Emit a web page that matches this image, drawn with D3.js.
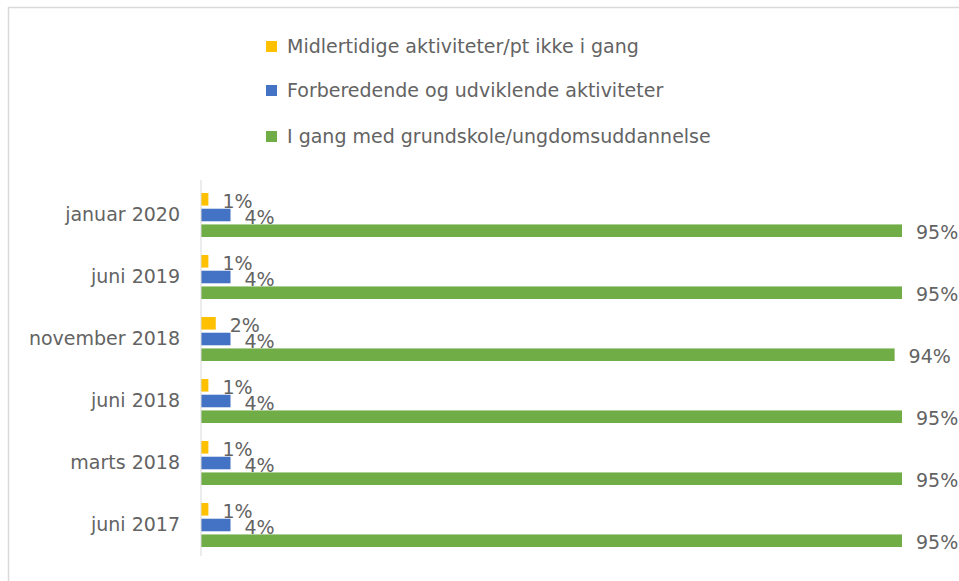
<!DOCTYPE html>
<html>
<head>
<meta charset="utf-8">
<script src="https://cdn.jsdelivr.net/npm/d3@7"></script>
<style>
  html, body { margin: 0; padding: 0; background: #fff; }
  text { font-family: "DejaVu Sans", sans-serif; }
</style>
</head>
<body>
<svg id="chart" width="959" height="581"></svg>
<script>
const categories = ["januar 2020", "juni 2019", "november 2018", "juni 2018", "marts 2018", "juni 2017"];
const seriesNames = [
  "Midlertidige aktiviteter/pt ikke i gang",
  "Forberedende og udviklende aktiviteter",
  "I gang med grundskole/ungdomsuddannelse"
];
const seriesColors = ["#FFC000", "#4472C4", "#70AD47"];
const midlertidige = [1, 1, 2, 1, 1, 1];
const forberedende = [4, 4, 4, 4, 4, 4];
const iGang = [95, 95, 94, 95, 95, 95];
const seriesValues = [midlertidige, forberedende, iGang];

const textColor = "#636363";
const svg = d3.select("#chart");

// frame
svg.append("rect").attr("x", 8.5).attr("y", 7.5).attr("width", 1000).attr("height", 1000)
  .attr("fill", "none").attr("stroke", "#D9D9D9").attr("stroke-width", 1.5);

const x = d3.scaleLinear().domain([0, 95]).range([201, 902]);
const y = d3.scaleBand().domain(categories).range([184, 556]).paddingInner(0.29).paddingOuter(0.145);
const ySub = d3.scaleBand().domain(d3.range(3)).range([0, y.bandwidth()]).paddingInner(0.2);

// legend
const legend = svg.append("g");
const legendY = [46, 90, 136];
seriesNames.forEach((name, i) => {
  legend.append("rect").attr("x", 266).attr("y", legendY[i] - 5).attr("width", 11).attr("height", 11)
    .attr("fill", seriesColors[i]);
  legend.append("text").attr("x", 287).attr("y", legendY[i]).attr("dy", "0.35em")
    .attr("font-size", 19).attr("fill", textColor).text(name);
});

// bars
const rows = categories.map((c, ci) => seriesValues.map((vals, si) => ({cat: c, si, v: vals[ci]}))).flat();
svg.append("g").selectAll("rect").data(rows).join("rect")
  .attr("x", x(0))
  .attr("y", d => y(d.cat) + ySub(d.si))
  .attr("width", d => x(d.v) - x(0))
  .attr("height", ySub.bandwidth())
  .attr("fill", d => seriesColors[d.si]);

// value labels
svg.append("g").selectAll("text").data(rows).join("text")
  .attr("x", d => x(d.v) + 14)
  .attr("y", d => y(d.cat) + ySub(d.si) + ySub.bandwidth() / 2 + 2)
  .attr("dy", "0.35em")
  .attr("font-size", 19).attr("fill", textColor)
  .text(d => d.v + "%");

// axis
const axis = d3.axisLeft(y).tickSize(0).tickPadding(21);
const ag = svg.append("g").attr("transform", `translate(${x(0)},0)`).call(axis);
ag.select(".domain").attr("stroke", "#D9D9D9").attr("d", "M0,180V556");
ag.selectAll("text").attr("font-size", 19).attr("fill", textColor).attr("font-family", "DejaVu Sans, sans-serif");
</script>
</body>
</html>
